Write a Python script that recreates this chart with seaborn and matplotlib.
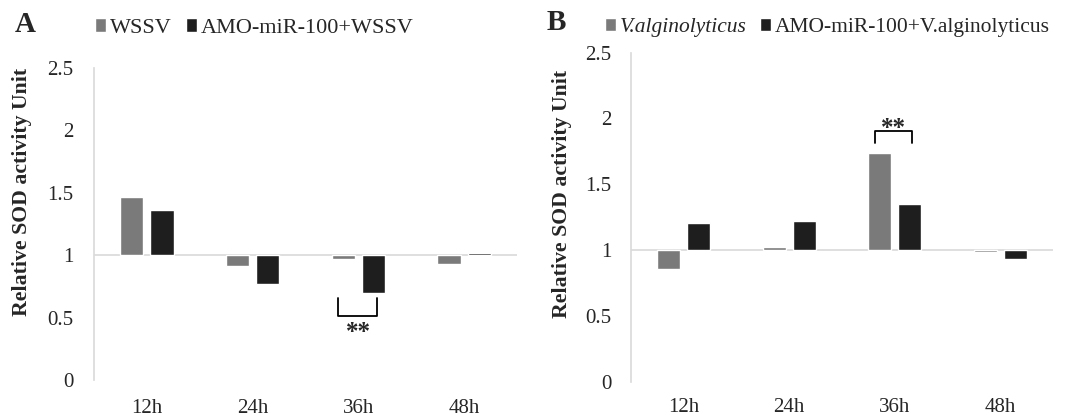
import seaborn as sns
import pandas as pd
import matplotlib.pyplot as plt

hours = ["12h", "24h", "36h", "48h"]

# panel A - WSSV challenge
wssv = [1.466, 0.912, 0.968, 0.93]
amo_wssv = [1.36, 0.768, 0.694, 1.014]

# panel B - V. alginolyticus challenge
vibrio = [0.853, 1.02, 1.734, 0.983]
amo_vibrio = [1.207, 1.22, 1.347, 0.93]

labels_a = ["WSSV", "AMO-miR-100+WSSV"]
labels_b = ["V.alginolyticus", "AMO-miR-100+V.alginolyticus"]
yticks = [0, 0.5, 1, 1.5, 2, 2.5]
ytick_labels = ["0", "0.5", "1", "1.5", "2", "2.5"]

grey = "#7a7a7a"
black = "#1e1e1e"
light = "#d9d9d9"

sns.set_style("white")
plt.rcParams["font.family"] = ["Liberation Serif", "DejaVu Serif"]


def make_table(first, second, names):
    # bars hang from 1, so the bar height is value - 1
    return pd.DataFrame({
        "time": hours * 2,
        "group": [names[0]] * len(hours) + [names[1]] * len(hours),
        "height": [v - 1 for v in first + second],
    })


def draw_panel(ax, df, names, xpad, ypad, legend_xy, legend_size):
    sns.barplot(data=df, x="time", y="height", hue="group", order=hours,
                hue_order=names, palette=[grey, black], width=0.57, gap=0.23,
                bottom=1, saturation=1, legend=False, ax=ax)
    ax.set_xlim(-0.5, 3.5)
    ax.set_ylim(0, 2.5)
    ax.axhline(1, color=light, lw=1.2, zorder=0)
    for side in ["top", "right", "bottom"]:
        ax.spines[side].set_visible(False)
    ax.spines["left"].set_color(light)
    ax.spines["left"].set_linewidth(1.2)
    ax.set_yticks(yticks)
    ax.set_yticklabels(ytick_labels)
    ax.tick_params(axis="y", length=0, pad=ypad, labelsize=15)
    ax.tick_params(axis="x", length=0, pad=xpad, labelsize=15)
    ax.set_xlabel("")
    ax.set_ylabel("Relative SOD activity Unit", fontsize=15.7, fontweight="bold")
    handles = [ax.patches[0], ax.patches[len(hours)]]
    return ax.legend(handles, names, loc="center", bbox_to_anchor=legend_xy,
                     bbox_transform=fig.transFigure, ncol=2, frameon=False,
                     fontsize=legend_size, handlelength=0.5, handleheight=0.55,
                     handletextpad=0.2, columnspacing=0.6, borderpad=0)


fig = plt.figure(figsize=(10.69, 4.18), dpi=100)
ax1 = fig.add_axes([0.0879, 0.0909, 0.3957, 0.7476])
ax2 = fig.add_axes([0.5903, 0.0868, 0.3948, 0.7876])

draw_panel(ax1, make_table(wssv, amo_wssv, labels_a), labels_a, 14, 15,
           (0.238, 0.933), 16)
leg2 = draw_panel(ax2, make_table(vibrio, amo_vibrio, labels_b), labels_b,
                  12, 14, (0.774, 0.935), 15.5)
leg2.get_texts()[0].set_style("italic")
ax1.yaxis.set_label_coords(-0.147, 0.603)
ax2.yaxis.set_label_coords(-0.14, 0.57)

# significance brackets
ax1.plot([2 - 0.19, 2 - 0.19, 2 + 0.18, 2 + 0.18], [0.656, 0.514, 0.514, 0.656],
         color="black", lw=1.3)
ax1.text(2, 0.33, "**", ha="center", va="baseline", fontsize=18,
         fontweight="bold")
ax2.plot([2 - 0.19, 2 - 0.19, 2 + 0.16, 2 + 0.16], [1.815, 1.906, 1.906, 1.815],
         color="black", lw=1.3)
ax2.text(2 - 0.015, 1.875, "**", ha="center", va="baseline", fontsize=18,
         fontweight="bold")

fig.text(15 / 1069, 1 - 25 / 418, "A", ha="left", va="center", fontsize=21,
         fontweight="bold")
fig.text(547 / 1069, 1 - 22 / 418, "B", ha="left", va="center", fontsize=21,
         fontweight="bold")

fig.savefig("out.png", dpi=100)
